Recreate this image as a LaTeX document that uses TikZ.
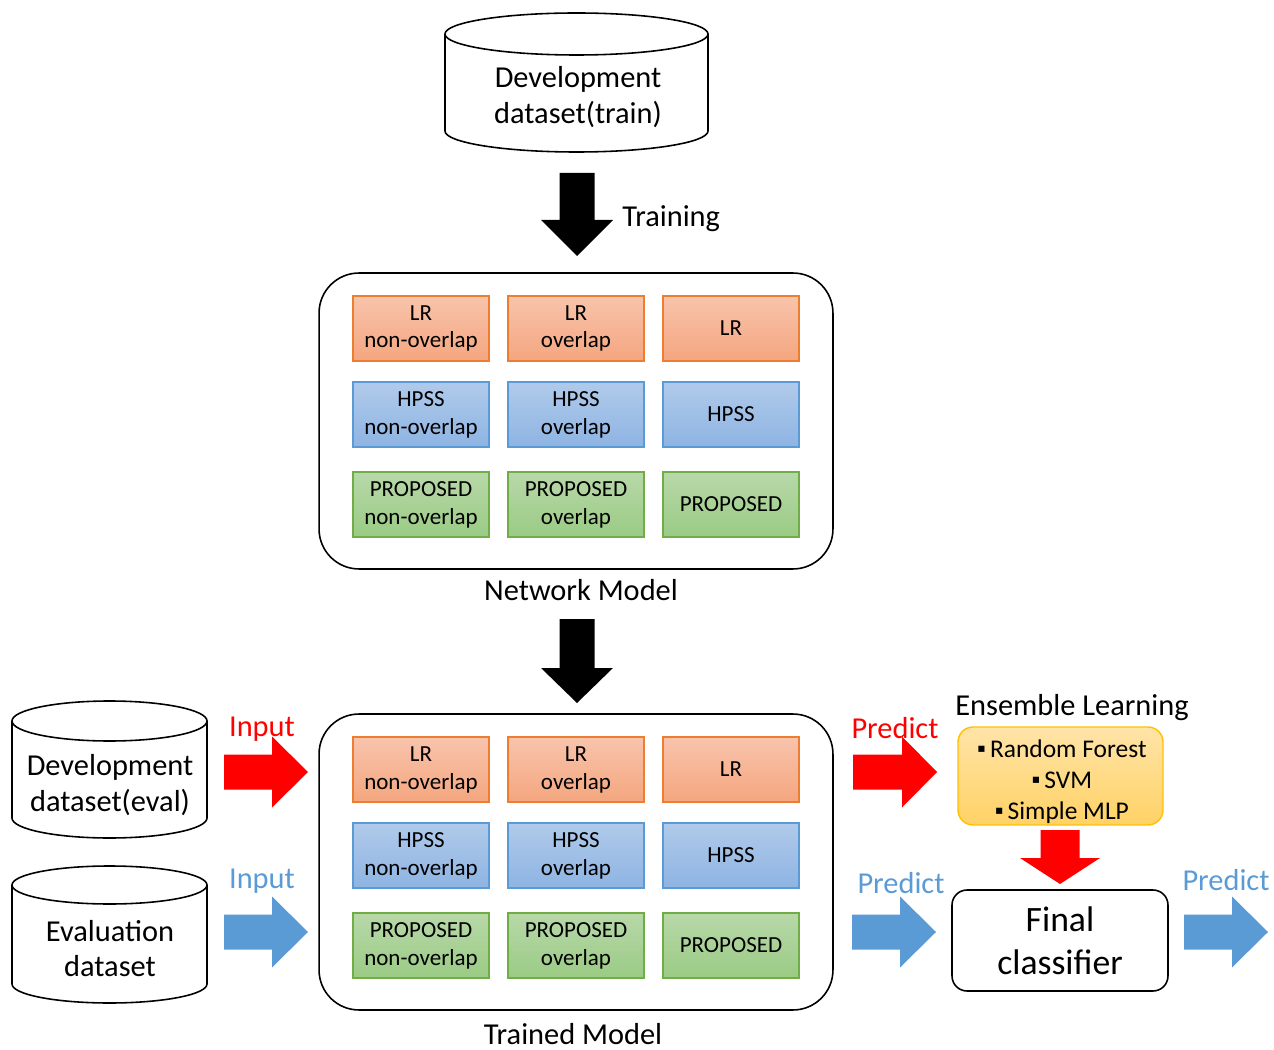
\documentclass[tikz,border=0pt]{standalone}
\usepackage{fontspec}
\setmainfont{Carlito}
\newfontfamily\symfont{DejaVu Sans}
\usepackage{tikz}
\usetikzlibrary{positioning,shapes.geometric}
\definecolor{lrtop}{HTML}{F8C4AC}
\definecolor{lrbot}{HTML}{F4A67F}
\definecolor{lredge}{HTML}{ED7D31}
\definecolor{hptop}{HTML}{B0CAEA}
\definecolor{hpbot}{HTML}{8EB4E3}
\definecolor{hpedge}{HTML}{5B9BD5}
\definecolor{prtop}{HTML}{B8D8A9}
\definecolor{prbot}{HTML}{9ACB84}
\definecolor{predge}{HTML}{70AD47}
\definecolor{entop}{HTML}{FFE4A8}
\definecolor{enbot}{HTML}{FFD266}
\definecolor{enedge}{HTML}{FFC000}
\definecolor{arrred}{HTML}{FF0000}
\definecolor{arrblue}{HTML}{5B9BD5}
\newcommand{\sqbullet}{\raisebox{0.45ex}{\symfont\fontsize{7}{7}\selectfont ▪}\,}
\tikzset{
  model/.style={draw=black, line width=0.9pt, rounded corners=0.8cm, minimum width=10.28cm, minimum height=5.92cm},
  cell/.style={draw=#1edge, line width=0.8pt, top color=#1top, bottom color=#1bot, minimum width=2.72cm, minimum height=1.3cm, align=center, inner sep=0pt, font=\fontsize{13.1}{15.9}\selectfont},
  dbtext/.style={align=center, inner sep=0pt, font=\fontsize{17.3}{20.4}\selectfont},
  caption/.style={inner sep=0pt, font=\fontsize{17.3}{20}\selectfont},
}

\begin{document}
\begin{tikzpicture}[x=0.02cm,y=-0.02cm]
  \useasboundingbox (0,0) rectangle (1274,1050);
  % databases
  \foreach \cx/\rx/\ty/\by/\ry in {576.5/131.5/34/131/21, 109.5/97.5/721/818/20, 109.5/97.5/885/984/19}
  {
    \draw[line width=0.9pt] ({\cx-\rx},\ty) -- ({\cx-\rx},\by) arc[start angle=180, end angle=360, x radius=\rx*0.02cm, y radius=\ry*0.02cm] -- ({\cx+\rx},\ty);
    \draw[line width=0.9pt] (\cx,\ty) ellipse[x radius=\rx*0.02cm, y radius=\ry*0.02cm];
  }
  \node[dbtext] (devtrain) at (578,97) {Development\\dataset(train)};
  \node[dbtext] (deveval) at (110,785) {Development\\dataset(eval)};
  \node[dbtext] (evalset) at (110,948.5) {Evaluation\\dataset};

  % model blocks
  \node[model] (net) at (576,421) {};
  \node[model] (trn) at (576,862) {};
  \foreach \m/\yo in {net/0, trn/441}
  {
    \foreach \r/\t/\c/\yy in {1/LR/lr/328.5, 2/HPSS/hp/414.5, 3/PROPOSED/pr/504.5}
    {
      \node[cell=\c] (\m-\r-1) at (421,{\yy+\yo}) {\t\\non-overlap};
      \node[cell=\c] (\m-\r-2) at (576,{\yy+\yo}) {\t\\overlap};
      \node[cell=\c] (\m-\r-3) at (731,{\yy+\yo}) {\t};
    }
  }
  \node[caption] (netlabel) at (581,590) {Network Model};
  \node[caption] (trnlabel) at (573,1034) {Trained Model};

  % block arrows
  \foreach \x/\a/\h/\t/\w/\W/\c in {577/173/220/256/17.5/36/black, 577/619/668/703/17.5/36/black, 1060/830/858/884/19.5/40/arrred}
    \fill[\c] ({\x-\w},\a) -- ({\x+\w},\a) -- ({\x+\w},\h) -- ({\x+\W},\h) -- (\x,\t) -- ({\x-\W},\h) -- ({\x-\w},\h) -- cycle;
  \foreach \x/\h/\t/\y/\c in {224/272/308/772/arrred, 224/272/308/932/arrblue, 853/902/937/772/arrred, 852/900/936/932/arrblue, 1184/1232/1268/932/arrblue}
    \fill[\c] (\x,{\y-17.5}) -- (\h,{\y-17.5}) -- (\h,{\y-35.5}) -- (\t,\y) -- (\h,{\y+35.5}) -- (\h,{\y+17.5}) -- (\x,{\y+17.5}) -- cycle;

  \node[caption, anchor=west] (train) at (622,219) {Training};
  \node[caption, text=arrred] (inred) at (262,729) {Input};
  \node[caption, text=arrblue] (inblue) at (262,881) {Input};
  \node[caption, text=arrred] (predred) at (895,728) {Predict};
  \node[caption, text=arrblue] (predblue) at (901,883) {Predict};
  \node[caption, text=arrblue] (predout) at (1226,880) {Predict};

  % ensemble and final classifier
  \node[caption] (enslabel) at (1072,708) {Ensemble Learning};
  \node[draw=enedge, line width=0.8pt, top color=entop, bottom color=enbot, rounded corners=0.3cm, minimum width=4.1cm, minimum height=1.96cm] (ens) at (1060.5,776) {};
  \node[align=center, inner sep=0pt, font=\fontsize{14.5}{17.6}\selectfont] (enslist) at (1062,782)
    {\sqbullet Random Forest\\\sqbullet SVM\\\sqbullet Simple MLP};
  \node[draw=black, line width=0.9pt, rounded corners=0.3cm, minimum width=4.32cm, minimum height=2.02cm, align=center, inner sep=0pt, font=\fontsize{20.3}{24.4}\selectfont] (final) at (1060,940.5) {Final\\classifier};
\end{tikzpicture}
\end{document}
